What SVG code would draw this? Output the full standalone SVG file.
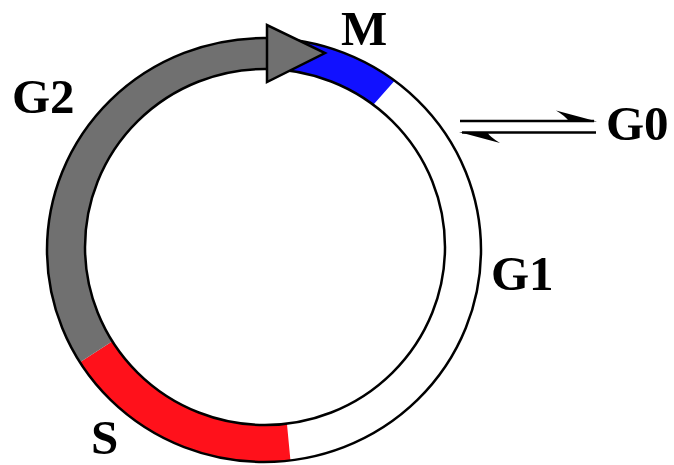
<svg xmlns="http://www.w3.org/2000/svg" width="674" height="465" viewBox="0 0 674 465">
<style>
.lbl{font-family:"Liberation Serif","DejaVu Serif",serif;font-weight:bold;font-size:49px;fill:#000}
.ring{fill:none;stroke:#000;stroke-width:2.5}
.seg{stroke:none}
</style>
<rect width="674" height="465" fill="#fff"/>
<g id="G1">
<path class="seg" fill="#fff" d="M394.59,80.69 A217 212 0 0 1 290.45,460.42 L286.94,423.67 A180 178 0 0 0 373.33,104.84 Z"/>
<text class="lbl" x="491" y="290">G1</text>
</g>
<g id="S">
<path class="seg" fill="#ff111b" d="M290.45,460.42 A217 212 0 0 1 79.97,362.34 L112.35,341.33 A180 178 0 0 0 286.94,423.67 Z"/>
<text class="lbl" x="91" y="454">S</text>
</g>
<g id="G2">
<path class="seg" fill="#707070" d="M79.97,362.34 A217 212 0 0 1 267.79,38.03 L268.14,69.03 A180 178 0 0 0 112.35,341.33 Z"/>
<text class="lbl" x="12" y="113">G2</text>
</g>
<g id="M">
<path class="seg" fill="#1111ff" d="M267.79,38.03 A217 212 0 0 1 394.59,80.69 L373.33,104.84 A180 178 0 0 0 268.14,69.03 Z"/>
<text class="lbl" x="341" y="44.5">M</text>
</g>
<g id="cycle-outline">
<ellipse class="ring" cx="264" cy="250" rx="217" ry="212"/>
<ellipse class="ring" cx="265" cy="247" rx="180" ry="178"/>
</g>
<g id="G0">
<text class="lbl" x="606" y="140">G0</text>
</g>
<g id="connectors">
<polygon points="267,25 267,82 325,53" fill="#707070" stroke="#000" stroke-width="2.5" stroke-linejoin="miter"/>
<line x1="460" y1="121" x2="594" y2="121" stroke="#000" stroke-width="2.4"/>
<path d="M597,121.5 L556,110.5 Q566,116.5 569,121.5 Z" fill="#000"/>
<line x1="462" y1="132.5" x2="596" y2="132.5" stroke="#000" stroke-width="2.4"/>
<path d="M459,132 L500,143 Q490,137 487,132 Z" fill="#000"/>
</g>
</svg>
